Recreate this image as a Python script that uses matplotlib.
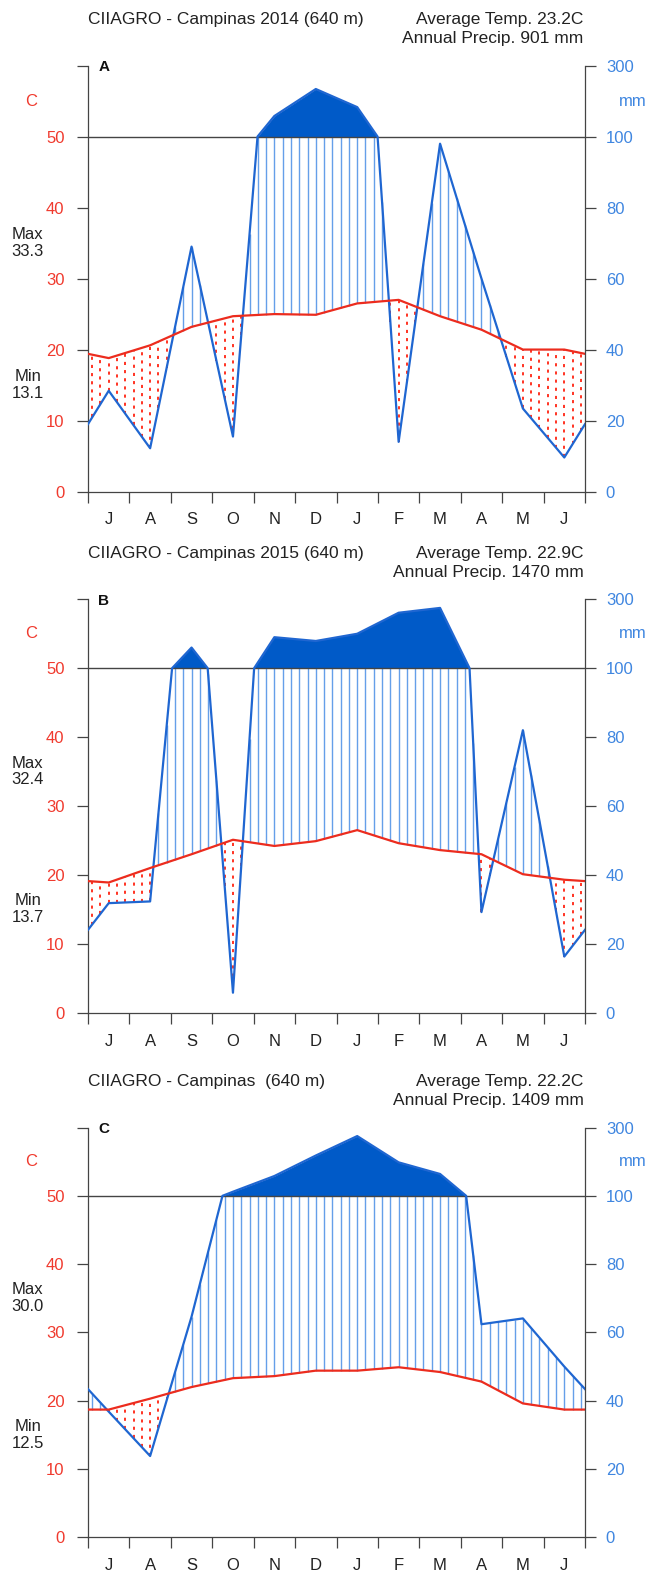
import numpy as np
import matplotlib
matplotlib.use("Agg")
import matplotlib.pyplot as plt
import matplotlib.transforms as mtransforms

plt.rcParams["font.family"] = ["Liberation Sans", "DejaVu Sans"]

# months start in July (southern hemisphere layout)
MONTHS = ["J", "A", "S", "O", "N", "D", "J", "F", "M", "A", "M", "J"]

PANEL_LABELS = ["A", "B", "C"]
TITLES = ["CIIAGRO - Campinas 2014 (640 m)",
          "CIIAGRO - Campinas 2015 (640 m)",
          "CIIAGRO - Campinas  (640 m)"]
AVG_TEMP = ["23.2", "22.9", "22.2"]
ANNUAL_PRECIP = ["901", "1470", "1409"]
TMAX = ["33.3", "32.4", "30.0"]
TMIN = ["13.1", "13.7", "12.5"]

# monthly mean temperature (C)
TEMP_A = [18.8, 20.6, 23.2, 24.7, 25.0, 24.9, 26.5, 27.0, 24.7, 22.8, 20.0, 20.0]
TEMP_B = [18.9, 21.0, 23.0, 25.1, 24.2, 24.9, 26.5, 24.6, 23.6, 23.0, 20.1, 19.3]
TEMP_C = [18.7, 20.3, 22.0, 23.3, 23.6, 24.4, 24.4, 24.9, 24.2, 22.8, 19.6, 18.7]

# monthly precipitation (mm)
PREC_A = [28.4, 12.2, 69.0, 15.5, 158, 234, 183, 14.0, 98.0, 60.0, 23.4, 9.6]
PREC_B = [31.8, 32.3, 160, 5.8, 190, 179, 200, 261, 275, 29.2, 82.0, 16.3]
PREC_C = [36.8, 23.8, 64.6, 112, 158, 218, 275, 198, 164, 62.4, 64.1, 50.0]

TEMPS = [TEMP_A, TEMP_B, TEMP_C]
PRECS = [PREC_A, PREC_B, PREC_C]

RED = "#ec2c1e"
RED_TXT = "#f03a2e"
BLUE = "#1f66d1"
BLUE_FILL = "#005ac8"
BLUE_HATCH = "#4a8ee6"
BLUE_TXT = "#3f86e0"
AXC = "#444444"
TXT = "#222222"

POS = [(0.1356, 0.6875, 0.7658, 0.2708),
       (0.1356, 0.3562, 0.7658, 0.2628),
       (0.1356, 0.0227, 0.7658, 0.2605)]


def scale_p(mm):
    mm = np.asarray(mm, dtype=float)
    return np.where(mm <= 100, mm / 2.0, 50 + (mm - 100) / 20.0)


def wrap(vals):
    # diagram closes the year: edges take the mean of first and last month
    edge = (vals[0] + vals[-1]) / 2.0
    x = np.concatenate([[0], np.arange(12) + 0.5, [12]])
    return x, np.concatenate([[edge], vals, [edge]])


def with_crossings(x, p):
    xs, ps = [x[0]], [p[0]]
    for i in range(1, len(x)):
        a, b = p[i - 1], p[i]
        if (a - 100) * (b - 100) < 0:
            f = (100 - a) / (b - a)
            xs.append(x[i - 1] + f * (x[i] - x[i - 1]))
            ps.append(100.0)
        xs.append(x[i])
        ps.append(p[i])
    return np.array(xs), np.array(ps)


def draw_panel(fig, k):
    ax = fig.add_axes(POS[k])
    temp = np.array(TEMPS[k], dtype=float)
    prec = np.array(PRECS[k], dtype=float)
    xt, tt = wrap(temp)
    xp, pp = wrap(prec)

    # hatching / dry dots
    xg = np.arange(0.1, 12, 0.2)
    tg = np.interp(xg, xt, tt)
    pg = scale_p(np.interp(xg, xp, pp))
    wet = pg > tg
    dry = pg < tg
    ax.vlines(xg[wet], tg[wet], np.minimum(pg[wet], 50), colors=BLUE_HATCH,
              linewidth=1.0, alpha=0.85, zorder=2)
    ax.vlines(xg[dry], pg[dry], tg[dry], colors="#ff3322", linewidth=1.4,
              linestyles=(0, (1.6, 2.6)), zorder=2)

    # precipitation over 100 mm, compressed scale
    xc, pc = with_crossings(xp, pp)
    ps = scale_p(pc)
    ax.fill_between(xc, 50, ps, where=ps >= 50, color=BLUE_FILL, lw=0, zorder=2)

    ax.axhline(50, color=AXC, lw=1.0, zorder=3)
    ax.plot(xc, ps, color=BLUE, lw=1.6, zorder=4)
    ax.plot(xt, tt, color=RED, lw=1.6, zorder=5)

    ax.set_xlim(0, 12)
    ax.set_ylim(0, 60)
    ax.set_xticks(np.arange(13))
    ax.set_xticks(np.arange(12) + 0.5, minor=True)
    ax.set_xticklabels(MONTHS, minor=True)
    ax.tick_params(axis="x", which="major", direction="out", length=8, width=0.9,
                   color=AXC, labelbottom=False)
    ax.tick_params(axis="x", which="minor", length=0, pad=15, labelsize=12,
                   labelcolor=TXT)
    ax.set_yticks([0, 10, 20, 30, 40, 50, 60])
    ax.set_yticklabels(["0", "10", "20", "30", "40", "50", ""])
    ax.tick_params(axis="y", direction="out", length=8, width=0.9, color=AXC,
                   pad=9, labelsize=12, labelcolor=RED_TXT)
    for side in ["top", "right"]:
        ax.spines[side].set_visible(False)
    for side in ["left", "bottom"]:
        ax.spines[side].set_color(AXC)
        ax.spines[side].set_linewidth(0.9)

    ax2 = ax.twinx()
    ax2.set_ylim(0, 60)
    ax2.set_yticks([0, 10, 20, 30, 40, 50, 60])
    ax2.set_yticklabels(["0", "20", "40", "60", "80", "100", "300"])
    ax2.tick_params(axis="y", direction="out", length=8, width=0.9, color=AXC,
                    pad=7, labelsize=12, labelcolor=BLUE_TXT)
    for side in ["top", "left", "bottom"]:
        ax2.spines[side].set_visible(False)
    ax2.spines["right"].set_color(AXC)
    ax2.spines["right"].set_linewidth(0.9)

    tr = mtransforms.blended_transform_factory(ax.transAxes, ax.transData)
    ax.text(-0.115, 55, "C", color=RED_TXT, fontsize=12, ha="center", va="center",
            transform=tr)
    ax.text(1.097, 55, "mm", color=BLUE_TXT, fontsize=12, ha="center", va="center",
            transform=tr)
    ax.text(-0.121, 35, f"Max\n{TMAX[k]}", color=TXT, fontsize=12, ha="center",
            va="center", linespacing=1.15, transform=tr)
    ax.text(-0.121, 15, f"Min\n{TMIN[k]}", color=TXT, fontsize=12, ha="center",
            va="center", linespacing=1.15, transform=tr)
    ax.text(0.032, 59.8, PANEL_LABELS[k], color="#111111", fontsize=11,
            fontweight="bold", ha="center", va="center", transform=tr)

    ax.annotate(TITLES[k], xy=(0, 1), xycoords="axes fraction", xytext=(0, 33),
                textcoords="offset points", ha="left", va="center", fontsize=12.5,
                color=TXT)
    ax.annotate(f"Average Temp. {AVG_TEMP[k]}C", xy=(1, 1), xycoords="axes fraction",
                xytext=(-1, 33), textcoords="offset points", ha="right", va="center",
                fontsize=12.5, color=TXT)
    ax.annotate(f"Annual Precip. {ANNUAL_PRECIP[k]} mm", xy=(1, 1),
                xycoords="axes fraction", xytext=(-1, 19.5), textcoords="offset points",
                ha="right", va="center", fontsize=12.5, color=TXT)


def main():
    fig = plt.figure(figsize=(6.49, 15.73), dpi=100)
    for k in range(3):
        draw_panel(fig, k)
    fig.savefig("out.png", dpi=100)
    plt.close(fig)


if __name__ == "__main__":
    main()
